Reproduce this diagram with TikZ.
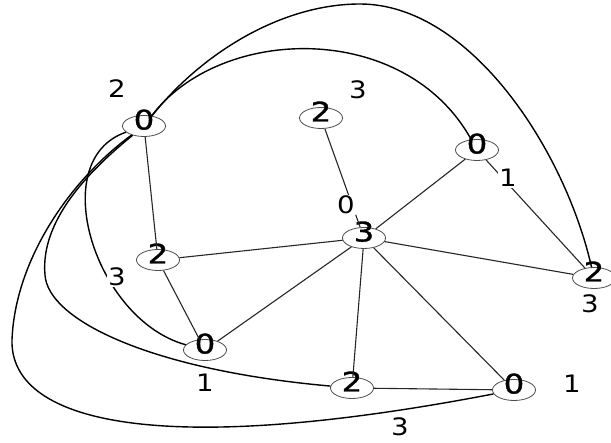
\documentclass[tikz,border=0pt]{standalone}
\usepackage{fontspec}
\usepackage{tikz}
\usetikzlibrary{shapes.geometric}
\newfontfamily\gfont{DejaVu Sans}[FakeStretch=1.15]
\newfontfamily\vfont{DejaVu Sans}[FakeStretch=1.2, FakeBold=1.2]

\tikzset{
	vtx/.style={ellipse, draw=black!70, line width=0.8pt, minimum width=43pt, minimum height=21pt, inner sep=0pt, text height=0.7em, text depth=-0.2em, font=\vfont\fontsize{27}{27}\selectfont},
	lbl/.style={inner sep=1pt, font=\gfont\fontsize{24}{24}\selectfont},
	ln/.style={line width=1.1pt, black!85},
	crv/.style={line width=1.4pt},
}

\begin{document}
\begin{tikzpicture}[x=1pt, y=-1pt]
	\useasboundingbox (0,0) rectangle (611,443);
	\node[vtx] (a) at (144,126) {0};
	\node[vtx] (b) at (321,118) {2};
	\node[vtx] (c) at (477,150) {0};
	\node[vtx] (d) at (364,238) {3};
	\node[vtx] (e) at (158,260) {2};
	\node[vtx] (f) at (594,278) {2};
	\node[vtx] (g) at (205,350) {0};
	\node[vtx] (h) at (352,388) {2};
	\node[vtx] (i) at (514,390) {0};
	
	\draw[ln] (a) -- (e);
	\draw[ln] (b) -- (d);
	\draw[ln] (c) -- (d);
	\draw[ln] (c) -- (f);
	\draw[ln] (d) -- (e);
	\draw[ln] (d) -- (f);
	\draw[ln] (d) -- (g);
	\draw[ln] (d) -- (h);
	\draw[ln] (d) -- (i);
	\draw[ln] (e) -- (g);
	\draw[ln] (h) -- (i);
	
	\draw[crv] (a) .. controls (220,25) and (405,20) .. (c);
	\draw[crv] (a) .. controls (200,55) and (280,4) .. (360,4) .. controls (470,4) and (565,150) .. (f);
	\draw[crv] (a) .. controls (45,160) and (95,320) .. (g);
	\draw[crv] (a) .. controls (90,170) and (40,220) .. (45,275) .. controls (48,320) and (150,370) .. (h);
	\draw[crv] (a) .. controls (70,180) and (15,260) .. (12,340) .. controls (10,420) and (150,460) .. (i);
	
	\node[lbl] (la) at (117,89) {2};
	\node[lbl] (lb) at (358,90) {3};
	\node[lbl, fill=white] (lbd) at (346,205) {0};
	\node[lbl, fill=white] (lcf) at (508,178) {1};
	\node[lbl, fill=white] (lag) at (117,277) {3};
	\node[lbl] (lf) at (590,304) {3};
	\node[lbl] (lg) at (205,383) {1};
	\node[lbl] (li) at (572,384) {1};
	\node[lbl] (lai) at (400,427) {3};
\end{tikzpicture}
\end{document}
